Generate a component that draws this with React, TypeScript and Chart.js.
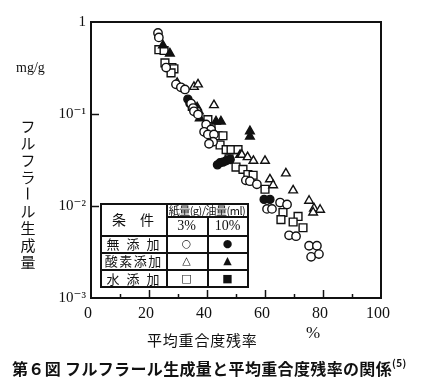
import React, { useEffect, useRef } from "react";
import { Chart, registerables } from "chart.js";

Chart.register(...registerables);

// ---- data (x: 平均重合度残率 %, y: フルフラール生成量 mg/g) ----
const noneAdd3: number[][] = [
  [23.1, 0.76], [23.4, 0.68], [25.9, 0.32], [29.3, 0.21], [31.0, 0.195], [32.4, 0.185],
  [34.5, 0.13], [35.2, 0.116], [35.5, 0.107], [36.9, 0.099], [39.7, 0.077], [41.4, 0.068],
  [39.0, 0.064], [40.3, 0.06], [42.4, 0.06], [42.1, 0.05], [40.7, 0.0475], [53.4, 0.019],
  [54.8, 0.0186], [57.2, 0.0172], [65.2, 0.0109], [67.6, 0.0104], [60.7, 0.0093], [62.4, 0.0093],
  [68.3, 0.0048], [70.7, 0.0047], [75.2, 0.0037], [77.9, 0.0037], [75.9, 0.0028], [78.6, 0.003],
];
const noneAdd10: number[][] = [
  [33.4, 0.145], [34.1, 0.13], [43.6, 0.028], [44.5, 0.0295], [45.5, 0.03], [46.6, 0.031],
  [48.0, 0.032], [59.7, 0.0118], [61.7, 0.0118],
];
const oxygen3: number[][] = [
  [29.7, 0.218], [35.5, 0.197], [36.9, 0.21], [37.2, 0.107], [42.4, 0.125], [52.0, 0.036],
  [54.0, 0.034], [56.0, 0.031], [60.0, 0.031], [67.2, 0.0226], [61.7, 0.0195], [62.8, 0.0168],
  [69.7, 0.0148], [75.2, 0.0114], [76.9, 0.0094], [79.0, 0.0091], [76.6, 0.0085],
];
const oxygen10: number[][] = [
  [24.8, 0.557], [27.2, 0.455], [36.6, 0.118], [37.5, 0.09], [43.1, 0.083], [44.8, 0.083],
  [54.8, 0.057], [54.8, 0.065], [51.4, 0.036],
];
const water3: number[][] = [
  [23.4, 0.5], [25.2, 0.49], [25.5, 0.36], [27.9, 0.32], [28.6, 0.31], [27.6, 0.28],
  [40.3, 0.087], [41.4, 0.073], [43.8, 0.058], [45.5, 0.058], [44.5, 0.046], [46.6, 0.041],
  [48.3, 0.041], [50.7, 0.041], [47.6, 0.0325], [50.0, 0.0265], [52.4, 0.025], [54.1, 0.022],
  [55.9, 0.0216], [60.0, 0.0152], [66.2, 0.0085], [65.5, 0.0071], [71.4, 0.0077], [69.7, 0.0067],
  [73.1, 0.0058],
];
const water10: number[][] = [[34.8, 0.12]];

const xLabelValues = [0, 20, 40, 60, 80, 100];
const xTickMarks = [10, 20, 30, 40, 50, 60, 70, 80, 90];
const yLabelValues = [0.001, 0.01, 0.1, 1];
const yLabelText: Record<string, string> = { "0.001": "10⁻³", "0.01": "10⁻²", "0.1": "10⁻¹", "1": "1" };
const yTickMarks = [0.01, 0.1];

const yTitle = "フルフラール生成量";
const rowLabels = ["無添加", "酸素添加", "水添加"];
const rowSymbols = [["○", "●"], ["△", "▲"], ["□", "■"]];

const INK = "#111";

const framePlugin = {
  id: "frame",
  afterDraw(chart: any) {
    const { ctx, chartArea: a, scales } = chart;
    const x = scales.x;
    const y = scales.y;
    ctx.save();
    ctx.strokeStyle = INK;
    ctx.lineWidth = 1.5;
    for (const v of xTickMarks) {
      const px = Math.round(x.getPixelForValue(v)) + 0.5;
      const len = v % 20 === 0 ? 8 : 4;
      ctx.beginPath();
      ctx.moveTo(px, a.bottom);
      ctx.lineTo(px, a.bottom - len);
      ctx.stroke();
    }
    for (const v of yTickMarks) {
      const py = Math.round(y.getPixelForValue(v)) + 0.5;
      ctx.beginPath();
      ctx.moveTo(a.left, py);
      ctx.lineTo(a.left + 8, py);
      ctx.stroke();
    }
    ctx.lineWidth = 2;
    ctx.strokeRect(a.left, a.top, a.right - a.left, a.bottom - a.top);
    ctx.restore();
  },
};

function ds(label: string, data: number[][], style: string, filled: boolean, r: number) {
  return {
    label,
    data: data.map(([x, y]) => ({ x, y })),
    pointStyle: style,
    pointRadius: r,
    pointBorderWidth: 1.4,
    pointBorderColor: INK,
    pointBackgroundColor: filled ? INK : "#fff",
    showLine: false,
  };
}

export default function App() {
  const ref = useRef<HTMLCanvasElement>(null);
  useEffect(() => {
    if (!ref.current) return;
    const serif = "'Liberation Serif', 'DejaVu Serif', serif";
    const chart = new Chart(ref.current, {
      type: "scatter",
      data: {
        datasets: [
          ds("無添加 3%", noneAdd3, "circle", false, 4.2),
          ds("無添加 10%", noneAdd10, "circle", true, 4.0),
          ds("酸素添加 3%", oxygen3, "triangle", false, 5),
          ds("酸素添加 10%", oxygen10, "triangle", true, 5),
          ds("水添加 3%", water3, "rect", false, 5.5),
          ds("水添加 10%", water10, "rect", true, 5),
        ] as any,
      },
      options: {
        animation: false,
        responsive: false,
        devicePixelRatio: 1,
        layout: { padding: { top: 22, right: 43, left: 0, bottom: 0 } },
        plugins: { legend: { display: false }, tooltip: { enabled: false } },
        scales: {
          x: {
            type: "linear",
            min: 0,
            max: 100,
            afterBuildTicks: (s: any) => {
              s.ticks = xLabelValues.map((v) => ({ value: v }));
            },
            afterFit: (s: any) => {
              s.height = 94;
            },
            ticks: {
              color: INK,
              font: { family: serif, size: 16 },
              padding: 6,
              labelOffset: -3,
              maxRotation: 0,
              autoSkip: false,
            },
            grid: { display: false, drawTicks: false },
            border: { display: false },
          },
          y: {
            type: "logarithmic",
            min: 0.001,
            max: 1,
            afterBuildTicks: (s: any) => {
              s.ticks = yLabelValues.map((v) => ({ value: v }));
            },
            afterFit: (s: any) => {
              s.width = 91;
            },
            ticks: {
              color: INK,
              font: { family: serif, size: 15 },
              padding: 5,
              autoSkip: false,
              callback: (v: any) => yLabelText[String(v)] ?? "",
            },
            grid: { display: false, drawTicks: false },
            border: { display: false },
          },
        },
      },
      plugins: [framePlugin],
    });
    return () => chart.destroy();
  }, []);

  const jp = "'Noto Sans CJK JP', sans-serif";
  const serif = "'Liberation Serif', 'DejaVu Serif', serif";
  const line = (l: number, t: number, w: number, h: number, key: string) => (
    <div key={key} style={{ position: "absolute", left: l, top: t, width: w, height: h, background: INK }} />
  );
  const cell = (l: number, t: number, w: number, h: number, content: React.ReactNode, style: any, key: string) => (
    <div
      key={key}
      style={{
        position: "absolute", left: l, top: t, width: w, height: h,
        display: "flex", alignItems: "center", justifyContent: "center",
        color: INK, whiteSpace: "nowrap", lineHeight: 1, ...style,
      }}
    >
      {content}
    </div>
  );

  // legend table geometry
  const c0 = 100, c1 = 166, c2 = 207, c3 = 248;
  const r0 = 203, r1 = 216, r2 = 235, rows = [235, 252, 269, 287];

  return (
    <div style={{ position: "absolute", left: 0, top: 0, width: 424, height: 392, background: "#fff", overflow: "hidden" }}>
      <canvas ref={ref} width={424} height={392} style={{ position: "absolute", left: 0, top: 0 }} />
      {/* y axis unit and title */}
      <div style={{ position: "absolute", left: 16, top: 61, fontFamily: serif, fontSize: 14, color: INK, lineHeight: 1 }}>mg/g</div>
      <div style={{ position: "absolute", left: 20, top: 117, width: 16, fontFamily: jp, fontSize: 15, color: INK, lineHeight: 1 }}>
        {Array.from(yTitle).map((ch, i) => (
          <div
            key={i}
            style={{
              height: 17, display: "flex", alignItems: "center", justifyContent: "center",
              transform: ch === "ー" ? "rotate(90deg)" : undefined,
            }}
          >
            {ch}
          </div>
        ))}
      </div>
      {/* x title */}
      <div style={{ position: "absolute", left: 147, top: 332, fontFamily: jp, fontSize: 15, letterSpacing: 0.8, color: INK, lineHeight: 1 }}>
        平均重合度残率
      </div>
      <div style={{ position: "absolute", left: 306, top: 324, fontFamily: serif, fontSize: 17, color: INK, lineHeight: 1 }}>%</div>
      {/* caption */}
      <div style={{ position: "absolute", left: 12, top: 360, fontFamily: jp, fontSize: 16, letterSpacing: 0.35, fontWeight: 700, color: INK, lineHeight: 1, whiteSpace: "nowrap" }}>
        第６図 フルフラール生成量と平均重合度残率の関係<sup style={{ fontSize: 10, verticalAlign: "top", position: "relative", top: -2 }}>(5)</sup>
      </div>
      {/* legend table */}
      <div style={{ position: "absolute", left: c0, top: r0, width: c3 - c0, height: rows[3] - r0, background: "#fff" }} />
      {line(c0, r0, c3 - c0 + 1, 2, "t")}
      {line(c0, rows[3] - 1, c3 - c0 + 1, 2, "b")}
      {line(c0, r0, 2, rows[3] - r0 + 1, "l")}
      {line(c3 - 1, r0, 2, rows[3] - r0 + 1, "r")}
      {line(c1, r0, 1.5, rows[3] - r0, "v1")}
      {line(c2, r1, 1.5, rows[3] - r1, "v2")}
      {line(c1, r1, c3 - c1, 1.5, "h1")}
      {line(c0, r2, c3 - c0, 1.5, "h2")}
      {line(c0, rows[1], c3 - c0, 1.5, "h3")}
      {line(c0, rows[2], c3 - c0, 1.5, "h4")}
      {cell(c0, r0, c1 - c0, r2 - r0, "条　件", { fontFamily: jp, fontSize: 14 }, "k")}
      {cell(c1, r0 + 1, c3 - c1, r1 - r0, "紙量(g)/油量(ml)", { fontFamily: jp, fontSize: 11, letterSpacing: -0.5 }, "u")}
      {cell(c1, r1, c2 - c1, r2 - r1, "3%", { fontFamily: serif, fontSize: 14 }, "p3")}
      {cell(c2, r1, c3 - c2, r2 - r1, "10%", { fontFamily: serif, fontSize: 14 }, "p10")}
      {rowLabels.map((lab, i) => (
        <React.Fragment key={lab}>
          {cell(c0, rows[i], c1 - c0, rows[i + 1] - rows[i], lab,
            { fontFamily: jp, fontSize: 13, letterSpacing: lab.length === 3 ? 7 : 1.5, paddingLeft: lab.length === 3 ? 7 : 1.5, boxSizing: "border-box" }, "rl" + i)}
          {cell(c1, rows[i], c2 - c1, rows[i + 1] - rows[i], rowSymbols[i][0], { fontFamily: "'DejaVu Sans', sans-serif", fontSize: 11 }, "s3" + i)}
          {cell(c2, rows[i], c3 - c2, rows[i + 1] - rows[i], rowSymbols[i][1], { fontFamily: "'DejaVu Sans', sans-serif", fontSize: 11 }, "s10" + i)}
        </React.Fragment>
      ))}
    </div>
  );
}
